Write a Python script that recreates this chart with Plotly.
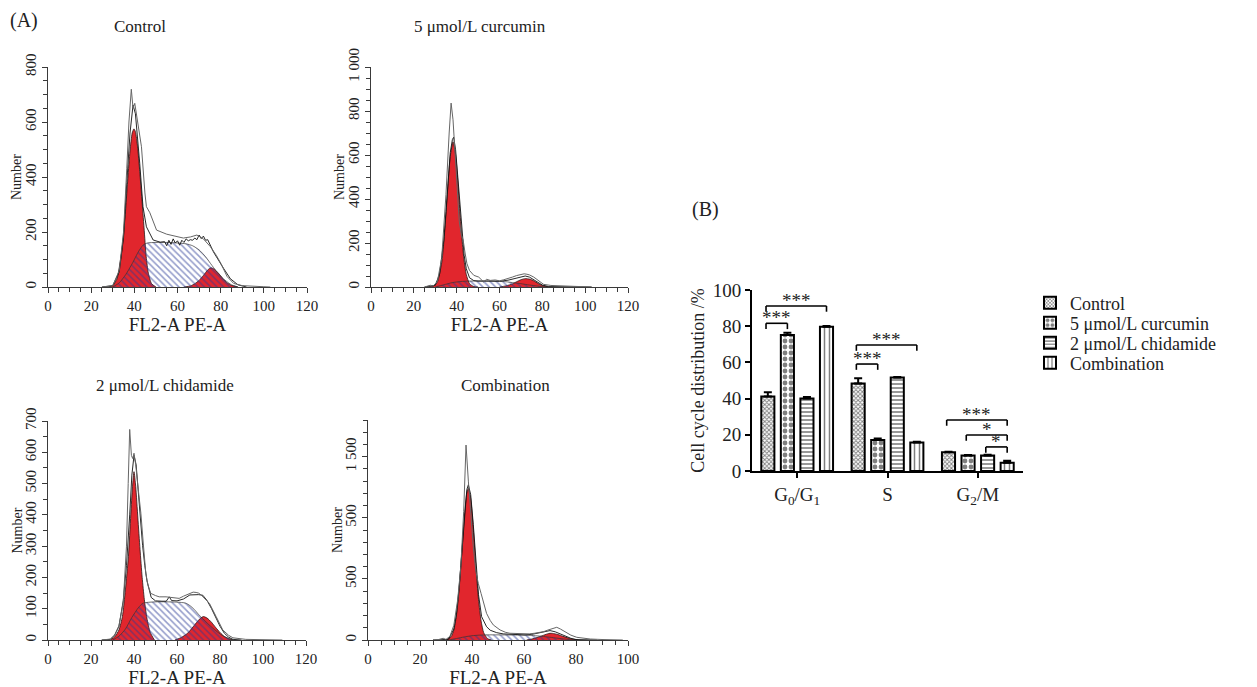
import plotly.graph_objects as go

FONT = "Liberation Serif, Times New Roman, serif"
W, H = 1257, 687
OFF = 8  # the page body margin shifts the figure by 8 px

# ---------------- Panel A: cell-cycle histograms ----------------
# Control
ctl_g1_x = [28, 30, 32, 33, 34, 35, 36, 37, 38, 39, 39.8, 40.5, 41.5, 42.5, 43.5, 44.5, 45.5, 46.5, 48, 50]
ctl_g1_y = [0, 5, 30, 70, 120, 190, 285, 395, 495, 560, 575, 565, 510, 420, 320, 215, 110, 50, 12, 0]
ctl_s_x = [30, 33, 36, 39, 42, 44, 46, 50, 55, 60, 64, 67, 70, 73, 76, 79, 82, 85, 88]
ctl_s_y = [0, 15, 45, 85, 130, 152, 160, 162, 162, 160, 157, 150, 135, 110, 78, 48, 25, 8, 0]
ctl_g2_x = [63, 66, 68, 70, 72, 74, 75.5, 77, 79, 81, 83, 85, 88]
ctl_g2_y = [0, 4, 12, 24, 42, 62, 70, 65, 50, 30, 15, 6, 0]
ctl_fit_x = [25, 30, 33, 35, 36.5, 38, 39.4, 40.5, 42.5, 44, 45.6, 48.7, 52, 54, 55, 56, 57, 58, 59, 60, 61,
             62, 63, 64, 65, 66, 67, 68, 69, 70, 71, 72, 73, 74, 76.7, 79, 81.4, 84.5, 88, 92]
ctl_fit_y = [0, 5, 55, 180, 380, 560, 662, 630, 450, 292, 219, 171, 163, 165, 150, 170, 155, 175, 160, 168, 152,
             170, 162, 175, 168, 172, 170, 178, 172, 189, 176, 185, 170, 172, 127, 95, 67, 30, 8, 0]
ctl_raw_x = [25, 30, 33, 35, 36.5, 37.5, 38.6, 39.4, 40.2, 41.5, 43.3, 44.9, 45.6, 47.2, 50.3, 55, 62.7, 66, 69,
             72, 75.2, 78, 80, 83, 86, 90, 95, 100, 103]
ctl_raw_y = [0, 5, 60, 200, 430, 600, 719, 650, 668, 600, 510, 342, 292, 270, 207, 192, 178, 182, 189,
             175, 147, 115, 87, 38, 13, 5, 2, 1, 0]

# 5 umol/L curcumin
cur_g1_x = [27, 29, 31, 33, 34, 35, 36, 37, 38.3, 39.5, 40.5, 41.5, 42.5, 43.5, 44.5, 46, 48, 50]
cur_g1_y = [0, 3, 22, 110, 203, 331, 471, 593, 660, 602, 485, 344, 215, 118, 57, 15, 2, 0]
cur_s_x = [30, 34, 38, 42, 46, 50, 55, 60, 63, 66, 70, 74, 78, 82]
cur_s_y = [0, 10, 20, 25, 27, 27, 27, 26, 24, 20, 15, 9, 4, 0]
cur_g2_x = [60, 63, 66, 68, 70, 72, 74, 76, 78, 80, 83]
cur_g2_y = [0, 5, 14, 24, 33, 38, 36, 28, 16, 7, 0]
cur_fit_x = [25, 28, 30, 32, 34, 35, 36, 37, 38, 38.6, 39.5, 40.5, 41.5, 42.5, 43.5, 44.5, 46, 48, 50, 55, 60,
             64, 68, 70, 72, 74, 76, 78, 80, 83, 88, 95, 103]
cur_fit_y = [0, 5, 8, 58, 213, 343, 486, 611, 670, 681, 624, 508, 368, 240, 144, 83, 42, 29, 27, 27, 26,
             31, 41, 48, 50, 45, 34, 20, 9, 2, 1, 0, 0]
cur_raw_x = [25, 27.7, 29, 31, 33, 35, 36.5, 37.4, 38.3, 39.2, 40.2, 41.2, 42.2, 43, 44, 44.8, 46, 48, 50.3,
             52.6, 54, 55.7, 58, 60, 62, 64, 66, 68, 70, 71.5, 72.8, 74, 76, 78, 80.6, 84, 90, 95, 99, 103]
cur_raw_y = [0, 8, 4, 25, 130, 420, 700, 836, 760, 600, 420, 300, 235, 215, 150, 106, 75, 53, 45,
             23, 35, 30, 32, 28, 33, 38, 45, 52, 56, 60, 58, 55, 45, 30, 12, 7, 5, 4, 4, 0]

# 2 umol/L chidamide
chi_g1_x = [29, 31, 33, 34.6, 36, 37.4, 38.5, 39.3, 40, 40.8, 41.8, 42.8, 43.8, 44.8, 46, 47.5, 49.5]
chi_g1_y = [0, 10, 32, 75, 160, 266, 400, 490, 538, 490, 390, 290, 200, 130, 70, 25, 0]
chi_s_x = [30, 33, 36, 39, 42, 44, 46, 50, 55, 60, 64, 66, 68, 70, 72, 75, 78, 81, 84, 86]
chi_s_y = [0, 12, 35, 72, 103, 117, 120, 122, 122, 121, 118, 110, 98, 82, 68, 48, 30, 15, 5, 0]
chi_g2_x = [59, 62, 65, 67, 69, 71, 72.3, 74, 76, 78, 80, 82, 84, 86]
chi_g2_y = [0, 8, 22, 38, 55, 70, 75, 70, 57, 40, 24, 11, 4, 0]
chi_fit_x = [25, 29, 31, 33, 35, 36.5, 38, 39, 40, 41, 42, 43, 44, 45, 46, 48, 50, 53, 55, 56.4, 57.5, 60,
             63, 66, 68, 70, 72, 74, 76, 78, 80, 82, 84, 86, 90]
chi_fit_y = [0, 2, 16, 44, 126, 238, 400, 527, 590, 560, 473, 382, 302, 239, 190, 136, 125, 124, 124, 138, 126, 125,
             131, 144, 145, 145, 143, 126, 101, 70, 44, 22, 9, 2, 0]
chi_raw_x = [25, 29, 31, 33, 35, 36.5, 37.3, 38, 38.8, 39.4, 40, 40.8, 42, 43.2, 44.3, 45.5, 46.5, 47.8, 50,
             51.7, 54.9, 57, 59, 61, 63, 65.8, 67.5, 68.9, 70, 71.2, 73, 75.1, 78.2, 81.3, 84, 86, 92, 100, 109]
chi_raw_y = [0, 3, 15, 45, 120, 300, 500, 673, 590, 580, 597, 560, 480, 405, 310, 213, 175, 149, 142,
             138, 138, 136, 134, 133, 140, 149, 153, 152, 150, 144, 130, 117, 75, 32, 15, 7, 2, 1, 0]

# Combination
com_g1_x = [29, 30, 32, 33, 34, 35, 36, 37, 38, 38.6, 39.5, 40.5, 41.5, 42.5, 43.5, 44.5, 46, 47.5]
com_g1_y = [0, 2, 28, 81, 197, 403, 690, 993, 1202, 1240, 1156, 907, 598, 331, 155, 60, 11, 0]
com_s_x = [31, 34, 37, 40, 43, 46, 50, 55, 60, 63, 66, 69, 72, 75, 78, 80]
com_s_y = [0, 12, 25, 35, 40, 42, 42, 41, 40, 37, 32, 25, 17, 9, 3, 0]
com_g2_x = [61, 63, 65, 67, 69, 70, 71, 73, 75, 77, 79, 81]
com_g2_y = [0, 8, 20, 35, 50, 55, 54, 45, 30, 16, 6, 0]
com_fit_x = [25, 29, 31, 33, 34, 35, 36, 37, 38, 38.6, 39.5, 40.5, 41.5, 42.5, 43.7, 45.6, 47, 49.5, 52, 56,
             60, 63, 66, 68, 70, 72, 74, 76, 78, 80, 83, 88]
com_fit_y = [0, 3, 5, 89, 209, 419, 710, 1018, 1230, 1270, 1189, 944, 636, 371, 191, 109, 80, 60, 50, 45,
             42, 46, 60, 71, 77, 67, 50, 30, 14, 4, 1, 0]
com_raw_x = [25, 27, 28.9, 30, 31.5, 33, 34.5, 35.7, 36.8, 37.7, 38.6, 39.5, 40.5, 41.5, 42.4, 43.5, 44.5, 45.6,
             47, 48.2, 50.8, 53, 54.6, 57, 60, 62, 64, 66, 67.5, 69, 70.5, 71.5, 72.6, 74, 76.5, 78, 80.3, 83,
             85.5, 90, 95, 98]
com_raw_y = [0, 3, 14, 5, 30, 120, 330, 600, 1050, 1595, 1300, 1000, 760, 560, 464, 380, 300, 218,
             160, 123, 82, 62, 55, 52, 50, 50, 55, 60, 68, 80, 92, 100, 104, 90, 55, 40, 22, 12,
             8, 4, 2, 0]

# ---------------- Panel B: cell-cycle distribution (%) ----------------
phases = ["G<sub>0</sub>/G<sub>1</sub>", "S", "G<sub>2</sub>/M"]
groups = ["Control", "5 μmol/L curcumin", "2 μmol/L chidamide", "Combination"]
pct_control = [41.1, 48.4, 10.3]
pct_curcumin = [75.1, 17.1, 8.5]
pct_chidamide = [40.1, 51.6, 8.5]
pct_combination = [79.7, 15.7, 4.6]
err_control = [2.4, 2.8, 0.4]
err_curcumin = [1.3, 0.8, 0.3]
err_chidamide = [0.8, 0.3, 0.5]
err_combination = [0.4, 0.5, 1.1]
# significance brackets: phase index, group a, group b, label
sig_pairs = [(0, 0, 1, "***"), (0, 0, 3, "***"), (1, 0, 1, "***"), (1, 0, 3, "***"),
             (2, 0, 3, "***"), (2, 1, 3, "*"), (2, 2, 3, "*")]
sig_heights = [81.6, 91.2, 59.1, 69.6, 28.2, 19.9, 13.3]

# ---------------- figure ----------------
def fx_(x):
    return (x - OFF) / W

def fy_(y):
    return 1 - (y - OFF) / H

RED = "#e1262d"
HATCH = "#2a3a96"
AX = "#3a3a3a"

fig = go.Figure()

panels = [
    (ctl_g1_x, ctl_g1_y, ctl_s_x, ctl_s_y, ctl_g2_x, ctl_g2_y, ctl_fit_x, ctl_fit_y, ctl_raw_x, ctl_raw_y),
    (cur_g1_x, cur_g1_y, cur_s_x, cur_s_y, cur_g2_x, cur_g2_y, cur_fit_x, cur_fit_y, cur_raw_x, cur_raw_y),
    (chi_g1_x, chi_g1_y, chi_s_x, chi_s_y, chi_g2_x, chi_g2_y, chi_fit_x, chi_fit_y, chi_raw_x, chi_raw_y),
    (com_g1_x, com_g1_y, com_s_x, com_s_y, com_g2_x, com_g2_y, com_fit_x, com_fit_y, com_raw_x, com_raw_y),
]

for i, (g1x, g1y, sx, sy, g2x, g2y, fx, fy, rx, ry) in enumerate(panels, start=1):
    xa, ya = f"x{i}", f"y{i}"
    common = dict(xaxis=xa, yaxis=ya, showlegend=False, hoverinfo="skip", mode="lines")
    fig.add_trace(go.Scatter(x=g1x, y=g1y, fill="tozeroy", fillcolor=RED,
                             line=dict(color="#2a1515", width=0.8, shape="spline", smoothing=0.6), **common))
    fig.add_trace(go.Scatter(x=g2x, y=g2y, fill="tozeroy", fillcolor=RED,
                             line=dict(color="#2a1515", width=0.8, shape="spline", smoothing=0.6), **common))
    fig.add_trace(go.Scatter(x=sx, y=sy, fill="tozeroy", fillcolor="rgba(0,0,0,0)",
                             fillpattern=dict(shape="\\", fgcolor=HATCH, bgcolor="rgba(0,0,0,0)",
                                              size=4.5, solidity=0.35),
                             line=dict(color="#333", width=0.7, shape="spline", smoothing=0.6), **common))
    fig.add_trace(go.Scatter(x=fx, y=fy, line=dict(color="#111", width=0.9), **common))
    fig.add_trace(go.Scatter(x=rx, y=ry, line=dict(color="#666", width=1), **common))

hist_axes = [
    # x domain px, y domain px, x range, y range, y ticks, y ticktext, y minor
    ((48, 307), (287, 67), 120, 800, [0, 200, 400, 600, 800], ["0", "200", "400", "600", "800"], 50),
    ((371, 628), (287, 67), 120, 1000, [0, 200, 400, 600, 800, 1000],
     ["0", "200", "400", "600", "800", "1 000"], 50),
    ((48, 306), (640, 421), 120, 700, [0, 100, 200, 300, 400, 500, 600, 700],
     ["0", "100", "200", "300", "400", "500", "600", "700"], 50),
    ((368, 628), (640, 420), 100, 1800, [0, 500, 1000, 1500], ["0", "500", "500", "1 500"], 100),
]

annotations = []
layout = {}
for i, ((xl, xr), (yb, yt), xmax, ymax, yv, yt_txt, ymin) in enumerate(hist_axes, start=1):
    sfx = "" if i == 1 else str(i)
    layout[f"xaxis{sfx}"] = dict(
        domain=[fx_(xl), fx_(xr)], anchor=f"y{i}", range=[0, xmax], automargin=False,
        tickmode="linear", tick0=0, dtick=20, ticks="outside", ticklen=5, tickwidth=1, tickcolor=AX,
        minor=dict(tickmode="linear", tick0=0, dtick=5, ticks="outside", ticklen=4, tickwidth=1,
                   tickcolor=AX, showgrid=False),
        showline=True, linecolor=AX, linewidth=1, showgrid=False, zeroline=False,
        tickfont=dict(family=FONT, size=15, color="#222"),
        title=dict(text="FL2-A PE-A", font=dict(family=FONT, size=19, color="#222"), standoff=2),
    )
    layout[f"yaxis{sfx}"] = dict(
        domain=[fy_(yb), fy_(yt)], anchor=f"x{i}", range=[0, ymax], automargin=False,
        tickmode="array", tickvals=yv, ticktext=yt_txt, tickangle=-90,
        ticks="outside", ticklen=5, tickwidth=1, tickcolor=AX,
        minor=dict(tickmode="linear", tick0=0, dtick=ymin, ticks="outside", ticklen=4, tickwidth=1,
                   tickcolor=AX, showgrid=False),
        showline=True, linecolor=AX, linewidth=1, showgrid=False, zeroline=False,
        tickfont=dict(family=FONT, size=15, color="#222"),
    )
    # y axis title "Number", placed beside the rotated tick labels
    annotations.append(dict(x=fx_(xl - 31), y=fy_((yb + yt) / 2), xref="paper", yref="paper",
                            text="Number", textangle=-90, showarrow=False, xanchor="center",
                            yanchor="middle", font=dict(family=FONT, size=14, color="#222")))

# ---- bar chart ----
bargap, groupgap = 0.134, 0.33
slot = (1 - bargap) / 4
offs = [(k - 1.5) * slot for k in range(4)]
xcat = [0, 1, 2]
series = [pct_control, pct_curcumin, pct_chidamide, pct_combination]
errs = [err_control, err_curcumin, err_chidamide, err_combination]
patterns = [dict(shape="x", size=3, solidity=0.5, fgcolor="black", bgcolor="white"),
            dict(shape=".", size=6, solidity=0.5, fgcolor="black", bgcolor="white"),
            dict(shape="-", size=4, solidity=0.4, fgcolor="black", bgcolor="white"),
            dict(shape="|", size=5, solidity=0.3, fgcolor="black", bgcolor="white")]
legend_rows = [303, 323, 343, 363]
legend_names = ["legend", "legend2", "legend3", "legend4"]
for name, vals, e, pat, lg in zip(groups, series, errs, patterns, legend_names):
    fig.add_trace(go.Bar(
        x=xcat, y=vals, name=name, xaxis="x5", yaxis="y5", legend=lg,
        marker=dict(color="white", line=dict(color="black", width=2), pattern=pat),
        error_y=dict(type="data", symmetric=False, array=e, arrayminus=[0] * len(e),
                     color="black", thickness=2, width=4),
        hoverinfo="skip",
    ))

shapes = []
for (ph, a, b, lab), top in zip(sig_pairs, sig_heights):
    x0 = ph + offs[a] - 0.02
    x1 = ph + offs[b]
    leg = 3.2
    for (sx0, sy0, sx1, sy1) in [(x0, top - leg, x0, top), (x0, top, x1, top), (x1, top, x1, top - leg)]:
        shapes.append(dict(type="line", xref="x5", yref="y5", x0=sx0, y0=sy0, x1=sx1, y1=sy1,
                           line=dict(color="black", width=1.6)))
    annotations.append(dict(x=(x0 + x1) / 2, y=top, xref="x5", yref="y5", text=lab, showarrow=False,
                            yanchor="bottom", yshift=2, height=12, valign="top",
                            font=dict(family=FONT, size=19, color="#222")))

layout["xaxis5"] = dict(
    domain=[fx_(752), fx_(1023)], anchor="y5", range=[-0.5, 2.5], automargin=False,
    tickmode="array", tickvals=xcat, ticktext=phases, ticks="outside", ticklen=5, tickwidth=2,
    tickcolor="black", showline=True, linecolor="black", linewidth=2, showgrid=False, zeroline=False,
    tickfont=dict(family=FONT, size=19, color="#222"),
)
layout["yaxis5"] = dict(
    domain=[fy_(471), fy_(290)], anchor="x5", range=[0, 100], automargin=False,
    tickmode="linear", tick0=0, dtick=20, ticks="outside", ticklen=5, tickwidth=2, tickcolor="black",
    showline=True, linecolor="black", linewidth=2, showgrid=False, zeroline=False,
    tickfont=dict(family=FONT, size=19, color="#222"),
    title=dict(text="Cell cycle distribution /%", font=dict(family=FONT, size=18, color="#222"), standoff=3),
)

for lg, row in zip(legend_names, legend_rows):
    layout[lg] = dict(x=fx_(1030), y=fy_(row), xanchor="left", yanchor="middle",
                      font=dict(family=FONT, size=18, color="#222"), itemwidth=30,
                      bgcolor="rgba(0,0,0,0)", borderwidth=0)

# panel titles and labels
for text, (x, y), size, anchor in [
    ("(A)", (8, 20), 20, "left"),
    ("Control", (140, 27), 17, "center"),
    ("5 μmol/L curcumin", (480, 27), 17, "center"),
    ("2 μmol/L chidamide", (165, 385), 17, "center"),
    ("Combination", (505, 385), 17, "center"),
    ("(B)", (690, 210), 20, "left"),
]:
    annotations.append(dict(x=fx_(x), y=fy_(y), xref="paper", yref="paper", text=text, showarrow=False,
                            xanchor=anchor, yanchor="middle", font=dict(family=FONT, size=size, color="#222")))

fig.update_layout(
    width=W, height=H, margin=dict(l=0, r=0, t=0, b=0, autoexpand=False),
    paper_bgcolor="white", plot_bgcolor="rgba(0,0,0,0)",
    barmode="group", bargap=bargap, bargroupgap=groupgap,
    font=dict(family=FONT, color="#222"),
    shapes=shapes, annotations=annotations,
    **layout,
)

fig.write_html("out.html")
